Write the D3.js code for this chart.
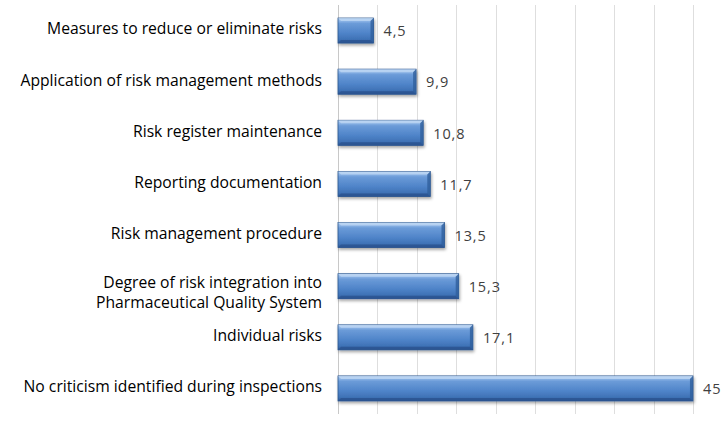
<!DOCTYPE html>
<html><head><meta charset="utf-8">
<script src="https://cdn.jsdelivr.net/npm/d3@7"></script>
<style>body{margin:0;background:#fff}svg{display:block}</style>
</head><body>
<script>
const categories = [
  "Measures to reduce or eliminate risks",
  "Application of risk management methods",
  "Risk register maintenance",
  "Reporting documentation",
  "Risk management procedure",
  "Degree of risk integration into\nPharmaceutical Quality System",
  "Individual risks",
  "No criticism identified during inspections"
];
const values = [4.5, 9.9, 10.8, 11.7, 13.5, 15.3, 17.1, 45];
const valueLabels = ["4,5", "9,9", "10,8", "11,7", "13,5", "15,3", "17,1", "45"];
const gridTicks = [0, 5, 10, 15, 20, 25, 30, 35, 40, 45, 50];

const W = 728, H = 421;
const svg = d3.select("body").append("svg").attr("width", W).attr("height", H);
const defs = svg.append("defs");
const g1 = defs.append("linearGradient").attr("id","barg").attr("x1",0).attr("y1",0).attr("x2",0).attr("y2",1);
[[0,"#a9c8ee"],[0.12,"#8cb4e6"],[0.22,"#6b9bd8"],[0.6,"#4f84c9"],[0.85,"#3f72b6"],[1,"#2d5a96"]].forEach(([o,c])=>g1.append("stop").attr("offset",o).attr("stop-color",c));
const f = defs.append("filter").attr("id","sh").attr("x","-5%").attr("y","-20%").attr("width","115%").attr("height","160%");
f.append("feDropShadow").attr("dx",1).attr("dy",2).attr("stdDeviation",1.5).attr("flood-color","#000").attr("flood-opacity",0.35);

const x = d3.scaleLinear().domain([0, 50]).range([338, 732.4]);
const y = d3.scaleBand().domain(categories).range([5, 414]).paddingInner(0.51).paddingOuter(0.255);

// gridlines
svg.append("g").selectAll("line").data(gridTicks).join("line")
  .attr("x1", d => Math.round(x(d)) + 0.5).attr("x2", d => Math.round(x(d)) + 0.5)
  .attr("y1", 5).attr("y2", 414)
  .attr("stroke", d => d === 0 ? "#c8c8c8" : "#dedede").attr("stroke-width", 1);

// bars
const bars = svg.append("g").selectAll("g").data(values).join("g");
bars.append("rect")
  .attr("x", x(0)).attr("y", (d,i) => y(categories[i]))
  .attr("width", d => x(d) - x(0)).attr("height", y.bandwidth())
  .attr("fill", "url(#barg)").attr("stroke", "#2b558d").attr("stroke-width", 0.8)
  .attr("filter", "url(#sh)");
// bevel highlights
bars.append("path")
  .attr("d", (d,i) => {
    const x0 = x(0), x1 = x(d), yt = y(categories[i]), b = 3;
    return `M${x0},${yt} L${x1},${yt} L${x1-b},${yt+b} L${x0+b},${yt+b} Z`;
  }).attr("fill", "#c4dbf5").attr("opacity", 0.7);
bars.append("path")
  .attr("d", (d,i) => {
    const x1 = x(d), yt = y(categories[i]), h = y.bandwidth(), b = 3;
    return `M${x1},${yt} L${x1},${yt+h} L${x1-b},${yt+h-b} L${x1-b},${yt+b} Z`;
  }).attr("fill", "#2f5f9c").attr("opacity", 0.8);
bars.append("path")
  .attr("d", (d,i) => {
    const x0 = x(0), x1 = x(d), yt = y(categories[i]), h = y.bandwidth(), b = 3;
    return `M${x0},${yt+h} L${x1},${yt+h} L${x1-b},${yt+h-b} L${x0+b},${yt+h-b} Z`;
  }).attr("fill", "#2a5390").attr("opacity", 0.8);

// value labels
svg.append("g").selectAll("text").data(values).join("text")
  .attr("x", d => x(d) + 10)
  .attr("y", (d,i) => y(categories[i]) + y.bandwidth()/2)
  .attr("dy", "0.4em")
  .attr("font-family", "'Open Sans', sans-serif").attr("font-size", 14.5)
  .attr("letter-spacing", 0.9)
  .attr("fill", "#404040")
  .text((d,i) => valueLabels[i]);

// category labels
const cl = svg.append("g").selectAll("text").data(categories).join("text")
  .attr("text-anchor", "end")
  .attr("font-family", "'Open Sans', sans-serif").attr("font-size", 15.7)
  .attr("fill", "#000")
  .attr("y", d => y(d) + y.bandwidth()/2);
cl.each(function(d){
  const lines = d.split("\n");
  const t = d3.select(this);
  lines.forEach((ln, k) => {
    t.append("tspan").attr("x", 322)
      .attr("dy", k === 0 ? (lines.length > 1 ? "0.1em" : "0.25em") : "1.27em")
      .text(ln);
  });
});
</script>
</body></html>
